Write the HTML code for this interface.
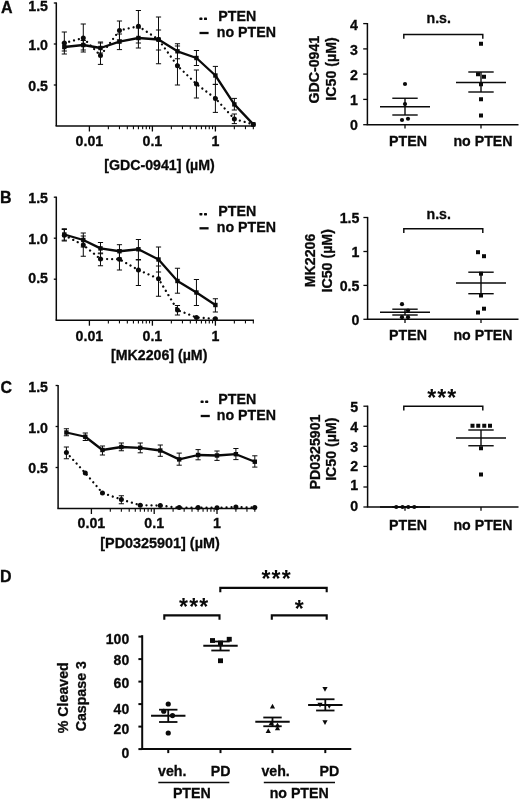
<!DOCTYPE html>
<html><head><meta charset="utf-8"><title>Figure</title>
<style>
html,body{margin:0;padding:0;background:#fff;}
svg{display:block;}
svg text{font-family:"Liberation Sans",Arial,sans-serif;font-weight:bold;fill:#0a0a0a;stroke:#0a0a0a;stroke-width:0.3px;}
svg line,svg polyline{stroke:#0a0a0a;}
svg circle,svg rect,svg polygon{fill:#0a0a0a;}
</style></head><body>
<svg width="520" height="799" viewBox="0 0 520 799">
<rect x="0" y="0" width="520" height="799" style="fill:#fff"/>
<text x="1.0" y="12.8" font-size="16" text-anchor="start" >A</text>
<line x1="56.30" y1="2.40" x2="56.30" y2="126.00" stroke-width="1.5" />
<line x1="55.55" y1="126.00" x2="254.00" y2="126.00" stroke-width="1.5" />
<line x1="53.80" y1="85.00" x2="56.30" y2="85.00" stroke-width="1.3" />
<text x="48.0" y="90.9" font-size="14.2" text-anchor="end" >0.5</text>
<line x1="53.80" y1="44.00" x2="56.30" y2="44.00" stroke-width="1.3" />
<text x="48.0" y="49.9" font-size="14.2" text-anchor="end" >1.0</text>
<line x1="53.80" y1="3.00" x2="56.30" y2="3.00" stroke-width="1.3" />
<text x="48.0" y="11.3" font-size="14.2" text-anchor="end" >1.5</text>
<line x1="89.40" y1="126.00" x2="89.40" y2="131.50" stroke-width="1.3" />
<line x1="108.36" y1="126.00" x2="108.36" y2="129.20" stroke-width="1.1" />
<line x1="119.46" y1="126.00" x2="119.46" y2="129.20" stroke-width="1.1" />
<line x1="127.33" y1="126.00" x2="127.33" y2="129.20" stroke-width="1.1" />
<line x1="133.44" y1="126.00" x2="133.44" y2="129.20" stroke-width="1.1" />
<line x1="138.42" y1="126.00" x2="138.42" y2="129.20" stroke-width="1.1" />
<line x1="142.64" y1="126.00" x2="142.64" y2="129.20" stroke-width="1.1" />
<line x1="146.29" y1="126.00" x2="146.29" y2="129.20" stroke-width="1.1" />
<line x1="149.52" y1="126.00" x2="149.52" y2="129.20" stroke-width="1.1" />
<line x1="152.40" y1="126.00" x2="152.40" y2="131.50" stroke-width="1.3" />
<line x1="171.36" y1="126.00" x2="171.36" y2="129.20" stroke-width="1.1" />
<line x1="182.46" y1="126.00" x2="182.46" y2="129.20" stroke-width="1.1" />
<line x1="190.33" y1="126.00" x2="190.33" y2="129.20" stroke-width="1.1" />
<line x1="196.44" y1="126.00" x2="196.44" y2="129.20" stroke-width="1.1" />
<line x1="201.42" y1="126.00" x2="201.42" y2="129.20" stroke-width="1.1" />
<line x1="205.64" y1="126.00" x2="205.64" y2="129.20" stroke-width="1.1" />
<line x1="209.29" y1="126.00" x2="209.29" y2="129.20" stroke-width="1.1" />
<line x1="212.52" y1="126.00" x2="212.52" y2="129.20" stroke-width="1.1" />
<line x1="215.40" y1="126.00" x2="215.40" y2="131.50" stroke-width="1.3" />
<line x1="234.36" y1="126.00" x2="234.36" y2="129.20" stroke-width="1.1" />
<line x1="245.46" y1="126.00" x2="245.46" y2="129.20" stroke-width="1.1" />
<line x1="253.33" y1="126.00" x2="253.33" y2="129.20" stroke-width="1.1" />
<text x="89.4" y="146.4" font-size="14.2" text-anchor="middle" >0.01</text>
<text x="152.4" y="146.4" font-size="14.2" text-anchor="middle" >0.1</text>
<text x="215.4" y="146.4" font-size="14.2" text-anchor="middle" >1</text>
<text x="159.5" y="169.6" font-size="14.2" text-anchor="middle" >[GDC-0941] (µM)</text>
<polyline points="64.33,43.00 83.29,38.00 100.49,55.60 119.46,30.40 138.42,26.20 158.51,39.50 177.47,65.80 196.44,84.00 215.40,98.40 234.36,119.00 253.33,124.40" fill="none" stroke-width="2.3" stroke-dasharray="0.01 5" stroke-linecap="round"/>
<line x1="64.33" y1="32.00" x2="64.33" y2="54.00" stroke-width="1.0" />
<line x1="61.73" y1="32.00" x2="66.93" y2="32.00" stroke-width="1.0" />
<line x1="61.73" y1="54.00" x2="66.93" y2="54.00" stroke-width="1.0" />
<circle cx="64.33" cy="43.00" r="2.5" stroke="none"/>
<line x1="83.29" y1="24.00" x2="83.29" y2="52.00" stroke-width="1.0" />
<line x1="80.69" y1="24.00" x2="85.89" y2="24.00" stroke-width="1.0" />
<line x1="80.69" y1="52.00" x2="85.89" y2="52.00" stroke-width="1.0" />
<circle cx="83.29" cy="38.00" r="2.5" stroke="none"/>
<line x1="100.49" y1="42.00" x2="100.49" y2="64.40" stroke-width="1.0" />
<line x1="97.89" y1="42.00" x2="103.09" y2="42.00" stroke-width="1.0" />
<line x1="97.89" y1="64.40" x2="103.09" y2="64.40" stroke-width="1.0" />
<circle cx="100.49" cy="55.60" r="2.5" stroke="none"/>
<line x1="119.46" y1="21.00" x2="119.46" y2="40.00" stroke-width="1.0" />
<line x1="116.86" y1="21.00" x2="122.06" y2="21.00" stroke-width="1.0" />
<line x1="116.86" y1="40.00" x2="122.06" y2="40.00" stroke-width="1.0" />
<circle cx="119.46" cy="30.40" r="2.5" stroke="none"/>
<line x1="138.42" y1="10.50" x2="138.42" y2="43.00" stroke-width="1.0" />
<line x1="135.82" y1="10.50" x2="141.02" y2="10.50" stroke-width="1.0" />
<line x1="135.82" y1="43.00" x2="141.02" y2="43.00" stroke-width="1.0" />
<circle cx="138.42" cy="26.20" r="2.5" stroke="none"/>
<line x1="158.51" y1="17.00" x2="158.51" y2="63.75" stroke-width="1.0" />
<line x1="155.91" y1="17.00" x2="161.11" y2="17.00" stroke-width="1.0" />
<line x1="155.91" y1="63.75" x2="161.11" y2="63.75" stroke-width="1.0" />
<circle cx="158.51" cy="39.50" r="2.5" stroke="none"/>
<line x1="177.47" y1="46.00" x2="177.47" y2="85.00" stroke-width="1.0" />
<line x1="174.87" y1="46.00" x2="180.07" y2="46.00" stroke-width="1.0" />
<line x1="174.87" y1="85.00" x2="180.07" y2="85.00" stroke-width="1.0" />
<circle cx="177.47" cy="65.80" r="2.5" stroke="none"/>
<line x1="196.44" y1="70.00" x2="196.44" y2="98.00" stroke-width="1.0" />
<line x1="193.84" y1="70.00" x2="199.04" y2="70.00" stroke-width="1.0" />
<line x1="193.84" y1="98.00" x2="199.04" y2="98.00" stroke-width="1.0" />
<circle cx="196.44" cy="84.00" r="2.5" stroke="none"/>
<line x1="215.40" y1="84.40" x2="215.40" y2="112.40" stroke-width="1.0" />
<line x1="212.80" y1="84.40" x2="218.00" y2="84.40" stroke-width="1.0" />
<line x1="212.80" y1="112.40" x2="218.00" y2="112.40" stroke-width="1.0" />
<circle cx="215.40" cy="98.40" r="2.5" stroke="none"/>
<line x1="234.36" y1="114.00" x2="234.36" y2="123.60" stroke-width="1.0" />
<line x1="231.76" y1="114.00" x2="236.96" y2="114.00" stroke-width="1.0" />
<line x1="231.76" y1="123.60" x2="236.96" y2="123.60" stroke-width="1.0" />
<circle cx="234.36" cy="119.00" r="2.5" stroke="none"/>
<circle cx="253.33" cy="124.40" r="2.5" stroke="none"/>
<polyline points="64.33,47.00 83.29,45.00 100.49,48.00 119.46,41.60 138.42,38.00 158.51,39.50 177.47,51.30 196.44,58.00 215.40,75.50 234.36,104.40 253.33,124.40" fill="none" stroke-width="2.3" stroke-linejoin="round"/>
<line x1="64.33" y1="43.00" x2="64.33" y2="51.00" stroke-width="1.0" />
<line x1="61.73" y1="43.00" x2="66.93" y2="43.00" stroke-width="1.0" />
<line x1="61.73" y1="51.00" x2="66.93" y2="51.00" stroke-width="1.0" />
<rect x="62.13" y="44.80" width="4.4" height="4.4" stroke="none"/>
<line x1="83.29" y1="40.50" x2="83.29" y2="50.00" stroke-width="1.0" />
<line x1="80.69" y1="40.50" x2="85.89" y2="40.50" stroke-width="1.0" />
<line x1="80.69" y1="50.00" x2="85.89" y2="50.00" stroke-width="1.0" />
<rect x="81.09" y="42.80" width="4.4" height="4.4" stroke="none"/>
<line x1="100.49" y1="43.00" x2="100.49" y2="53.00" stroke-width="1.0" />
<line x1="97.89" y1="43.00" x2="103.09" y2="43.00" stroke-width="1.0" />
<line x1="97.89" y1="53.00" x2="103.09" y2="53.00" stroke-width="1.0" />
<rect x="98.29" y="45.80" width="4.4" height="4.4" stroke="none"/>
<line x1="119.46" y1="34.00" x2="119.46" y2="49.60" stroke-width="1.0" />
<line x1="116.86" y1="34.00" x2="122.06" y2="34.00" stroke-width="1.0" />
<line x1="116.86" y1="49.60" x2="122.06" y2="49.60" stroke-width="1.0" />
<rect x="117.26" y="39.40" width="4.4" height="4.4" stroke="none"/>
<line x1="138.42" y1="28.00" x2="138.42" y2="48.00" stroke-width="1.0" />
<line x1="135.82" y1="28.00" x2="141.02" y2="28.00" stroke-width="1.0" />
<line x1="135.82" y1="48.00" x2="141.02" y2="48.00" stroke-width="1.0" />
<rect x="136.22" y="35.80" width="4.4" height="4.4" stroke="none"/>
<line x1="158.51" y1="30.00" x2="158.51" y2="50.00" stroke-width="1.0" />
<line x1="155.91" y1="30.00" x2="161.11" y2="30.00" stroke-width="1.0" />
<line x1="155.91" y1="50.00" x2="161.11" y2="50.00" stroke-width="1.0" />
<rect x="156.31" y="37.30" width="4.4" height="4.4" stroke="none"/>
<line x1="177.47" y1="43.75" x2="177.47" y2="58.75" stroke-width="1.0" />
<line x1="174.87" y1="43.75" x2="180.07" y2="43.75" stroke-width="1.0" />
<line x1="174.87" y1="58.75" x2="180.07" y2="58.75" stroke-width="1.0" />
<rect x="175.27" y="49.10" width="4.4" height="4.4" stroke="none"/>
<line x1="196.44" y1="50.50" x2="196.44" y2="65.50" stroke-width="1.0" />
<line x1="193.84" y1="50.50" x2="199.04" y2="50.50" stroke-width="1.0" />
<line x1="193.84" y1="65.50" x2="199.04" y2="65.50" stroke-width="1.0" />
<rect x="194.24" y="55.80" width="4.4" height="4.4" stroke="none"/>
<line x1="215.40" y1="66.40" x2="215.40" y2="84.40" stroke-width="1.0" />
<line x1="212.80" y1="66.40" x2="218.00" y2="66.40" stroke-width="1.0" />
<line x1="212.80" y1="84.40" x2="218.00" y2="84.40" stroke-width="1.0" />
<rect x="213.20" y="73.30" width="4.4" height="4.4" stroke="none"/>
<line x1="234.36" y1="98.40" x2="234.36" y2="110.00" stroke-width="1.0" />
<line x1="231.76" y1="98.40" x2="236.96" y2="98.40" stroke-width="1.0" />
<line x1="231.76" y1="110.00" x2="236.96" y2="110.00" stroke-width="1.0" />
<rect x="232.16" y="102.20" width="4.4" height="4.4" stroke="none"/>
<rect x="251.13" y="122.20" width="4.4" height="4.4" stroke="none"/>
<rect x="199.4" y="17.6" width="3" height="2.5" rx="0.6" stroke="none"/>
<rect x="204" y="17.6" width="3" height="2.5" rx="0.6" stroke="none"/>
<text x="218.3" y="20.5" font-size="14.2" text-anchor="start" >PTEN</text>
<line x1="199.50" y1="33.00" x2="208.60" y2="33.00" stroke-width="2.3" />
<text x="216.8" y="37.1" font-size="14.2" text-anchor="start" >no PTEN</text>
<text x="0.1" y="202.9" font-size="16" text-anchor="start" >B</text>
<line x1="56.30" y1="196.60" x2="56.30" y2="320.20" stroke-width="1.5" />
<line x1="55.55" y1="320.20" x2="254.00" y2="320.20" stroke-width="1.5" />
<line x1="53.80" y1="279.20" x2="56.30" y2="279.20" stroke-width="1.3" />
<text x="48.0" y="283.2" font-size="14.2" text-anchor="end" >0.5</text>
<line x1="53.80" y1="238.20" x2="56.30" y2="238.20" stroke-width="1.3" />
<text x="48.0" y="244.2" font-size="14.2" text-anchor="end" >1.0</text>
<line x1="53.80" y1="197.20" x2="56.30" y2="197.20" stroke-width="1.3" />
<text x="48.0" y="202.79999999999998" font-size="14.2" text-anchor="end" >1.5</text>
<line x1="89.40" y1="320.20" x2="89.40" y2="325.70" stroke-width="1.3" />
<line x1="108.36" y1="320.20" x2="108.36" y2="323.40" stroke-width="1.1" />
<line x1="119.46" y1="320.20" x2="119.46" y2="323.40" stroke-width="1.1" />
<line x1="127.33" y1="320.20" x2="127.33" y2="323.40" stroke-width="1.1" />
<line x1="133.44" y1="320.20" x2="133.44" y2="323.40" stroke-width="1.1" />
<line x1="138.42" y1="320.20" x2="138.42" y2="323.40" stroke-width="1.1" />
<line x1="142.64" y1="320.20" x2="142.64" y2="323.40" stroke-width="1.1" />
<line x1="146.29" y1="320.20" x2="146.29" y2="323.40" stroke-width="1.1" />
<line x1="149.52" y1="320.20" x2="149.52" y2="323.40" stroke-width="1.1" />
<line x1="152.40" y1="320.20" x2="152.40" y2="325.70" stroke-width="1.3" />
<line x1="171.36" y1="320.20" x2="171.36" y2="323.40" stroke-width="1.1" />
<line x1="182.46" y1="320.20" x2="182.46" y2="323.40" stroke-width="1.1" />
<line x1="190.33" y1="320.20" x2="190.33" y2="323.40" stroke-width="1.1" />
<line x1="196.44" y1="320.20" x2="196.44" y2="323.40" stroke-width="1.1" />
<line x1="201.42" y1="320.20" x2="201.42" y2="323.40" stroke-width="1.1" />
<line x1="205.64" y1="320.20" x2="205.64" y2="323.40" stroke-width="1.1" />
<line x1="209.29" y1="320.20" x2="209.29" y2="323.40" stroke-width="1.1" />
<line x1="212.52" y1="320.20" x2="212.52" y2="323.40" stroke-width="1.1" />
<line x1="215.40" y1="320.20" x2="215.40" y2="325.70" stroke-width="1.3" />
<line x1="234.36" y1="320.20" x2="234.36" y2="323.40" stroke-width="1.1" />
<line x1="245.46" y1="320.20" x2="245.46" y2="323.40" stroke-width="1.1" />
<line x1="253.33" y1="320.20" x2="253.33" y2="323.40" stroke-width="1.1" />
<text x="89.4" y="340.8" font-size="14.2" text-anchor="middle" >0.01</text>
<text x="152.4" y="340.8" font-size="14.2" text-anchor="middle" >0.1</text>
<text x="215.4" y="340.8" font-size="14.2" text-anchor="middle" >1</text>
<text x="159.2" y="359.6" font-size="14.2" text-anchor="middle" >[MK2206] (µM)</text>
<polyline points="64.33,235.30 83.29,245.00 100.49,259.00 119.46,259.30 138.42,270.00 158.51,278.75 177.47,310.00 196.44,317.50 215.40,318.75" fill="none" stroke-width="2.3" stroke-dasharray="0.01 5" stroke-linecap="round"/>
<line x1="64.33" y1="229.50" x2="64.33" y2="241.00" stroke-width="1.0" />
<line x1="61.73" y1="229.50" x2="66.93" y2="229.50" stroke-width="1.0" />
<line x1="61.73" y1="241.00" x2="66.93" y2="241.00" stroke-width="1.0" />
<circle cx="64.33" cy="235.30" r="2.5" stroke="none"/>
<line x1="83.29" y1="236.00" x2="83.29" y2="256.25" stroke-width="1.0" />
<line x1="80.69" y1="236.00" x2="85.89" y2="236.00" stroke-width="1.0" />
<line x1="80.69" y1="256.25" x2="85.89" y2="256.25" stroke-width="1.0" />
<circle cx="83.29" cy="245.00" r="2.5" stroke="none"/>
<line x1="100.49" y1="253.00" x2="100.49" y2="265.75" stroke-width="1.0" />
<line x1="97.89" y1="253.00" x2="103.09" y2="253.00" stroke-width="1.0" />
<line x1="97.89" y1="265.75" x2="103.09" y2="265.75" stroke-width="1.0" />
<circle cx="100.49" cy="259.00" r="2.5" stroke="none"/>
<line x1="119.46" y1="250.00" x2="119.46" y2="270.00" stroke-width="1.0" />
<line x1="116.86" y1="250.00" x2="122.06" y2="250.00" stroke-width="1.0" />
<line x1="116.86" y1="270.00" x2="122.06" y2="270.00" stroke-width="1.0" />
<circle cx="119.46" cy="259.30" r="2.5" stroke="none"/>
<line x1="138.42" y1="260.00" x2="138.42" y2="285.50" stroke-width="1.0" />
<line x1="135.82" y1="260.00" x2="141.02" y2="260.00" stroke-width="1.0" />
<line x1="135.82" y1="285.50" x2="141.02" y2="285.50" stroke-width="1.0" />
<circle cx="138.42" cy="270.00" r="2.5" stroke="none"/>
<line x1="158.51" y1="266.00" x2="158.51" y2="296.25" stroke-width="1.0" />
<line x1="155.91" y1="266.00" x2="161.11" y2="266.00" stroke-width="1.0" />
<line x1="155.91" y1="296.25" x2="161.11" y2="296.25" stroke-width="1.0" />
<circle cx="158.51" cy="278.75" r="2.5" stroke="none"/>
<line x1="177.47" y1="305.50" x2="177.47" y2="315.00" stroke-width="1.0" />
<line x1="174.87" y1="305.50" x2="180.07" y2="305.50" stroke-width="1.0" />
<line x1="174.87" y1="315.00" x2="180.07" y2="315.00" stroke-width="1.0" />
<circle cx="177.47" cy="310.00" r="2.5" stroke="none"/>
<circle cx="196.44" cy="317.50" r="2.5" stroke="none"/>
<circle cx="215.40" cy="318.75" r="2.5" stroke="none"/>
<polyline points="64.33,234.50 83.29,240.00 100.49,248.40 119.46,251.25 138.42,249.25 158.51,259.50 177.47,281.00 196.44,292.50 215.40,305.00" fill="none" stroke-width="2.3" stroke-linejoin="round"/>
<line x1="64.33" y1="228.75" x2="64.33" y2="240.20" stroke-width="1.0" />
<line x1="61.73" y1="228.75" x2="66.93" y2="228.75" stroke-width="1.0" />
<line x1="61.73" y1="240.20" x2="66.93" y2="240.20" stroke-width="1.0" />
<rect x="62.13" y="232.30" width="4.4" height="4.4" stroke="none"/>
<line x1="83.29" y1="233.00" x2="83.29" y2="247.00" stroke-width="1.0" />
<line x1="80.69" y1="233.00" x2="85.89" y2="233.00" stroke-width="1.0" />
<line x1="80.69" y1="247.00" x2="85.89" y2="247.00" stroke-width="1.0" />
<rect x="81.09" y="237.80" width="4.4" height="4.4" stroke="none"/>
<line x1="100.49" y1="242.50" x2="100.49" y2="253.75" stroke-width="1.0" />
<line x1="97.89" y1="242.50" x2="103.09" y2="242.50" stroke-width="1.0" />
<line x1="97.89" y1="253.75" x2="103.09" y2="253.75" stroke-width="1.0" />
<rect x="98.29" y="246.20" width="4.4" height="4.4" stroke="none"/>
<line x1="119.46" y1="244.70" x2="119.46" y2="258.00" stroke-width="1.0" />
<line x1="116.86" y1="244.70" x2="122.06" y2="244.70" stroke-width="1.0" />
<line x1="116.86" y1="258.00" x2="122.06" y2="258.00" stroke-width="1.0" />
<rect x="117.26" y="249.05" width="4.4" height="4.4" stroke="none"/>
<line x1="138.42" y1="239.50" x2="138.42" y2="259.50" stroke-width="1.0" />
<line x1="135.82" y1="239.50" x2="141.02" y2="239.50" stroke-width="1.0" />
<line x1="135.82" y1="259.50" x2="141.02" y2="259.50" stroke-width="1.0" />
<rect x="136.22" y="247.05" width="4.4" height="4.4" stroke="none"/>
<line x1="158.51" y1="247.00" x2="158.51" y2="272.00" stroke-width="1.0" />
<line x1="155.91" y1="247.00" x2="161.11" y2="247.00" stroke-width="1.0" />
<line x1="155.91" y1="272.00" x2="161.11" y2="272.00" stroke-width="1.0" />
<rect x="156.31" y="257.30" width="4.4" height="4.4" stroke="none"/>
<line x1="177.47" y1="268.25" x2="177.47" y2="293.20" stroke-width="1.0" />
<line x1="174.87" y1="268.25" x2="180.07" y2="268.25" stroke-width="1.0" />
<line x1="174.87" y1="293.20" x2="180.07" y2="293.20" stroke-width="1.0" />
<rect x="175.27" y="278.80" width="4.4" height="4.4" stroke="none"/>
<line x1="196.44" y1="279.50" x2="196.44" y2="305.50" stroke-width="1.0" />
<line x1="193.84" y1="279.50" x2="199.04" y2="279.50" stroke-width="1.0" />
<line x1="193.84" y1="305.50" x2="199.04" y2="305.50" stroke-width="1.0" />
<rect x="194.24" y="290.30" width="4.4" height="4.4" stroke="none"/>
<line x1="215.40" y1="298.75" x2="215.40" y2="312.00" stroke-width="1.0" />
<line x1="212.80" y1="298.75" x2="218.00" y2="298.75" stroke-width="1.0" />
<line x1="212.80" y1="312.00" x2="218.00" y2="312.00" stroke-width="1.0" />
<rect x="213.20" y="302.80" width="4.4" height="4.4" stroke="none"/>
<rect x="199.4" y="212.9" width="3" height="2.5" rx="0.6" stroke="none"/>
<rect x="204" y="212.9" width="3" height="2.5" rx="0.6" stroke="none"/>
<text x="218.3" y="215.8" font-size="14.2" text-anchor="start" >PTEN</text>
<line x1="199.50" y1="228.30" x2="208.60" y2="228.30" stroke-width="2.3" />
<text x="216.8" y="232.4" font-size="14.2" text-anchor="start" >no PTEN</text>
<text x="0.4" y="393.1" font-size="16" text-anchor="start" >C</text>
<line x1="58.10" y1="384.90" x2="58.10" y2="508.50" stroke-width="1.5" />
<line x1="57.35" y1="508.50" x2="256.00" y2="508.50" stroke-width="1.5" />
<line x1="55.60" y1="467.50" x2="58.10" y2="467.50" stroke-width="1.3" />
<text x="48.0" y="473.4" font-size="14.2" text-anchor="end" >0.5</text>
<line x1="55.60" y1="426.50" x2="58.10" y2="426.50" stroke-width="1.3" />
<text x="48.0" y="433.3" font-size="14.2" text-anchor="end" >1.0</text>
<line x1="55.60" y1="385.50" x2="58.10" y2="385.50" stroke-width="1.3" />
<text x="48.0" y="392.4" font-size="14.2" text-anchor="end" >1.5</text>
<line x1="91.40" y1="508.50" x2="91.40" y2="514.00" stroke-width="1.3" />
<line x1="110.30" y1="508.50" x2="110.30" y2="511.70" stroke-width="1.1" />
<line x1="121.36" y1="508.50" x2="121.36" y2="511.70" stroke-width="1.1" />
<line x1="129.21" y1="508.50" x2="129.21" y2="511.70" stroke-width="1.1" />
<line x1="135.30" y1="508.50" x2="135.30" y2="511.70" stroke-width="1.1" />
<line x1="140.27" y1="508.50" x2="140.27" y2="511.70" stroke-width="1.1" />
<line x1="144.47" y1="508.50" x2="144.47" y2="511.70" stroke-width="1.1" />
<line x1="148.11" y1="508.50" x2="148.11" y2="511.70" stroke-width="1.1" />
<line x1="151.33" y1="508.50" x2="151.33" y2="511.70" stroke-width="1.1" />
<line x1="154.20" y1="508.50" x2="154.20" y2="514.00" stroke-width="1.3" />
<line x1="173.10" y1="508.50" x2="173.10" y2="511.70" stroke-width="1.1" />
<line x1="184.16" y1="508.50" x2="184.16" y2="511.70" stroke-width="1.1" />
<line x1="192.01" y1="508.50" x2="192.01" y2="511.70" stroke-width="1.1" />
<line x1="198.10" y1="508.50" x2="198.10" y2="511.70" stroke-width="1.1" />
<line x1="203.07" y1="508.50" x2="203.07" y2="511.70" stroke-width="1.1" />
<line x1="207.27" y1="508.50" x2="207.27" y2="511.70" stroke-width="1.1" />
<line x1="210.91" y1="508.50" x2="210.91" y2="511.70" stroke-width="1.1" />
<line x1="214.13" y1="508.50" x2="214.13" y2="511.70" stroke-width="1.1" />
<line x1="217.00" y1="508.50" x2="217.00" y2="514.00" stroke-width="1.3" />
<line x1="235.90" y1="508.50" x2="235.90" y2="511.70" stroke-width="1.1" />
<line x1="246.96" y1="508.50" x2="246.96" y2="511.70" stroke-width="1.1" />
<line x1="254.81" y1="508.50" x2="254.81" y2="511.70" stroke-width="1.1" />
<text x="91.4" y="527.6" font-size="14.2" text-anchor="middle" >0.01</text>
<text x="154.2" y="527.6" font-size="14.2" text-anchor="middle" >0.1</text>
<text x="217.0" y="527.6" font-size="14.2" text-anchor="middle" >1</text>
<text x="160" y="548.0" font-size="14.4" text-anchor="middle" >[PD0325901] (µM)</text>
<polyline points="66.41,452.50 85.31,473.00 102.46,493.00 121.36,499.50 140.27,505.20 160.29,505.60 179.19,507.60 198.10,507.60 217.00,507.80 235.90,507.00 254.81,507.60" fill="none" stroke-width="2.3" stroke-dasharray="0.01 5" stroke-linecap="round"/>
<line x1="66.41" y1="447.00" x2="66.41" y2="458.75" stroke-width="1.0" />
<line x1="63.81" y1="447.00" x2="69.01" y2="447.00" stroke-width="1.0" />
<line x1="63.81" y1="458.75" x2="69.01" y2="458.75" stroke-width="1.0" />
<circle cx="66.41" cy="452.50" r="2.5" stroke="none"/>
<circle cx="85.31" cy="473.00" r="2.5" stroke="none"/>
<circle cx="102.46" cy="493.00" r="2.5" stroke="none"/>
<line x1="121.36" y1="495.75" x2="121.36" y2="503.75" stroke-width="1.0" />
<line x1="118.76" y1="495.75" x2="123.96" y2="495.75" stroke-width="1.0" />
<line x1="118.76" y1="503.75" x2="123.96" y2="503.75" stroke-width="1.0" />
<circle cx="121.36" cy="499.50" r="2.5" stroke="none"/>
<circle cx="140.27" cy="505.20" r="2.5" stroke="none"/>
<circle cx="160.29" cy="505.60" r="2.5" stroke="none"/>
<circle cx="179.19" cy="507.60" r="2.5" stroke="none"/>
<circle cx="198.10" cy="507.60" r="2.5" stroke="none"/>
<circle cx="217.00" cy="507.80" r="2.5" stroke="none"/>
<circle cx="235.90" cy="507.00" r="2.5" stroke="none"/>
<circle cx="254.81" cy="507.60" r="2.5" stroke="none"/>
<polyline points="66.41,432.50 85.31,436.75 102.46,450.00 121.36,447.00 140.27,447.80 160.29,450.50 179.19,459.40 198.10,455.00 217.00,455.50 235.90,454.20 254.81,461.70" fill="none" stroke-width="2.3" stroke-linejoin="round"/>
<line x1="66.41" y1="428.75" x2="66.41" y2="435.75" stroke-width="1.0" />
<line x1="63.81" y1="428.75" x2="69.01" y2="428.75" stroke-width="1.0" />
<line x1="63.81" y1="435.75" x2="69.01" y2="435.75" stroke-width="1.0" />
<rect x="64.21" y="430.30" width="4.4" height="4.4" stroke="none"/>
<line x1="85.31" y1="433.00" x2="85.31" y2="440.50" stroke-width="1.0" />
<line x1="82.71" y1="433.00" x2="87.91" y2="433.00" stroke-width="1.0" />
<line x1="82.71" y1="440.50" x2="87.91" y2="440.50" stroke-width="1.0" />
<rect x="83.11" y="434.55" width="4.4" height="4.4" stroke="none"/>
<line x1="102.46" y1="446.00" x2="102.46" y2="455.00" stroke-width="1.0" />
<line x1="99.86" y1="446.00" x2="105.06" y2="446.00" stroke-width="1.0" />
<line x1="99.86" y1="455.00" x2="105.06" y2="455.00" stroke-width="1.0" />
<rect x="100.26" y="447.80" width="4.4" height="4.4" stroke="none"/>
<line x1="121.36" y1="443.00" x2="121.36" y2="450.75" stroke-width="1.0" />
<line x1="118.76" y1="443.00" x2="123.96" y2="443.00" stroke-width="1.0" />
<line x1="118.76" y1="450.75" x2="123.96" y2="450.75" stroke-width="1.0" />
<rect x="119.16" y="444.80" width="4.4" height="4.4" stroke="none"/>
<line x1="140.27" y1="443.00" x2="140.27" y2="452.80" stroke-width="1.0" />
<line x1="137.67" y1="443.00" x2="142.87" y2="443.00" stroke-width="1.0" />
<line x1="137.67" y1="452.80" x2="142.87" y2="452.80" stroke-width="1.0" />
<rect x="138.07" y="445.60" width="4.4" height="4.4" stroke="none"/>
<line x1="160.29" y1="445.00" x2="160.29" y2="456.30" stroke-width="1.0" />
<line x1="157.69" y1="445.00" x2="162.89" y2="445.00" stroke-width="1.0" />
<line x1="157.69" y1="456.30" x2="162.89" y2="456.30" stroke-width="1.0" />
<rect x="158.09" y="448.30" width="4.4" height="4.4" stroke="none"/>
<line x1="179.19" y1="453.10" x2="179.19" y2="465.20" stroke-width="1.0" />
<line x1="176.59" y1="453.10" x2="181.79" y2="453.10" stroke-width="1.0" />
<line x1="176.59" y1="465.20" x2="181.79" y2="465.20" stroke-width="1.0" />
<rect x="176.99" y="457.20" width="4.4" height="4.4" stroke="none"/>
<line x1="198.10" y1="449.60" x2="198.10" y2="459.80" stroke-width="1.0" />
<line x1="195.50" y1="449.60" x2="200.70" y2="449.60" stroke-width="1.0" />
<line x1="195.50" y1="459.80" x2="200.70" y2="459.80" stroke-width="1.0" />
<rect x="195.90" y="452.80" width="4.4" height="4.4" stroke="none"/>
<line x1="217.00" y1="451.00" x2="217.00" y2="460.40" stroke-width="1.0" />
<line x1="214.40" y1="451.00" x2="219.60" y2="451.00" stroke-width="1.0" />
<line x1="214.40" y1="460.40" x2="219.60" y2="460.40" stroke-width="1.0" />
<rect x="214.80" y="453.30" width="4.4" height="4.4" stroke="none"/>
<line x1="235.90" y1="448.50" x2="235.90" y2="459.60" stroke-width="1.0" />
<line x1="233.30" y1="448.50" x2="238.50" y2="448.50" stroke-width="1.0" />
<line x1="233.30" y1="459.60" x2="238.50" y2="459.60" stroke-width="1.0" />
<rect x="233.70" y="452.00" width="4.4" height="4.4" stroke="none"/>
<line x1="254.81" y1="455.80" x2="254.81" y2="467.10" stroke-width="1.0" />
<line x1="252.21" y1="455.80" x2="257.41" y2="455.80" stroke-width="1.0" />
<line x1="252.21" y1="467.10" x2="257.41" y2="467.10" stroke-width="1.0" />
<rect x="252.61" y="459.50" width="4.4" height="4.4" stroke="none"/>
<rect x="200.6" y="400.6" width="3" height="2.5" rx="0.6" stroke="none"/>
<rect x="205.2" y="400.6" width="3" height="2.5" rx="0.6" stroke="none"/>
<text x="218.3" y="403.5" font-size="14.2" text-anchor="start" >PTEN</text>
<line x1="200.70" y1="416.00" x2="209.80" y2="416.00" stroke-width="2.3" />
<text x="216.8" y="420.1" font-size="14.2" text-anchor="start" >no PTEN</text>
<line x1="367.40" y1="23.00" x2="367.40" y2="124.70" stroke-width="1.5" />
<line x1="366.65" y1="124.70" x2="518.50" y2="124.70" stroke-width="1.5" />
<line x1="363.20" y1="23.60" x2="367.40" y2="23.60" stroke-width="1.3" />
<text x="357.8" y="30.000000000000004" font-size="14.2" text-anchor="end" >4</text>
<line x1="363.20" y1="48.90" x2="367.40" y2="48.90" stroke-width="1.3" />
<text x="357.8" y="54.699999999999996" font-size="14.2" text-anchor="end" >3</text>
<line x1="363.20" y1="74.10" x2="367.40" y2="74.10" stroke-width="1.3" />
<text x="357.8" y="79.8" font-size="14.2" text-anchor="end" >2</text>
<line x1="363.20" y1="99.40" x2="367.40" y2="99.40" stroke-width="1.3" />
<text x="357.8" y="104.7" font-size="14.2" text-anchor="end" >1</text>
<line x1="363.20" y1="124.70" x2="367.40" y2="124.70" stroke-width="1.3" />
<text x="357.8" y="130.2" font-size="14.2" text-anchor="end" >0</text>
<text transform="translate(319,69.7) rotate(-90)" font-size="14.2" text-anchor="middle">GDC-0941</text>
<text transform="translate(335.8,69) rotate(-90)" font-size="14.2" text-anchor="middle">IC50 (µM)</text>
<line x1="405.00" y1="124.70" x2="405.00" y2="128.50" stroke-width="1.3" />
<line x1="481.00" y1="124.70" x2="481.00" y2="128.50" stroke-width="1.3" />
<text x="408" y="145.6" font-size="14.2" text-anchor="middle" >PTEN</text>
<text x="483" y="145.6" font-size="14.2" text-anchor="middle" >no PTEN</text>
<polyline points="403.8,38.8 403.8,34.5 482.8,34.5 482.8,38.8" fill="none" stroke-width="1.45"/>
<text x="438.7" y="23" font-size="14.2" text-anchor="middle" >n.s.</text>
<line x1="380.00" y1="106.75" x2="430.00" y2="106.75" stroke-width="1.4" />
<line x1="392.30" y1="98.25" x2="417.70" y2="98.25" stroke-width="1.4" />
<line x1="392.30" y1="115.00" x2="417.70" y2="115.00" stroke-width="1.4" />
<line x1="405.00" y1="98.25" x2="405.00" y2="115.00" stroke-width="1.4" />
<line x1="456.00" y1="82.50" x2="506.00" y2="82.50" stroke-width="1.4" />
<line x1="468.30" y1="72.00" x2="493.70" y2="72.00" stroke-width="1.4" />
<line x1="468.30" y1="92.00" x2="493.70" y2="92.00" stroke-width="1.4" />
<line x1="481.00" y1="72.00" x2="481.00" y2="92.00" stroke-width="1.4" />
<circle cx="405" cy="84" r="2.1" stroke="none"/>
<circle cx="405" cy="104" r="2.1" stroke="none"/>
<circle cx="402" cy="120" r="2.1" stroke="none"/>
<circle cx="408" cy="118.75" r="2.1" stroke="none"/>
<rect x="479" y="41.75" width="4" height="4" stroke="none"/>
<rect x="476" y="72.25" width="4" height="4" stroke="none"/>
<rect x="482" y="74.75" width="4" height="4" stroke="none"/>
<rect x="479" y="82.25" width="4" height="4" stroke="none"/>
<rect x="479" y="97.25" width="4" height="4" stroke="none"/>
<rect x="479" y="113.5" width="4" height="4" stroke="none"/>
<line x1="367.60" y1="216.90" x2="367.60" y2="319.30" stroke-width="1.5" />
<line x1="366.85" y1="319.30" x2="518.50" y2="319.30" stroke-width="1.5" />
<line x1="363.40" y1="217.50" x2="367.60" y2="217.50" stroke-width="1.3" />
<text x="359.4" y="222.8" font-size="14.2" text-anchor="end" >1.5</text>
<line x1="363.40" y1="251.50" x2="367.60" y2="251.50" stroke-width="1.3" />
<text x="359.4" y="256.8" font-size="14.2" text-anchor="end" >1</text>
<line x1="363.40" y1="285.40" x2="367.60" y2="285.40" stroke-width="1.3" />
<text x="359.4" y="290.7" font-size="14.2" text-anchor="end" >0.5</text>
<line x1="363.40" y1="319.30" x2="367.60" y2="319.30" stroke-width="1.3" />
<text x="359.4" y="324.6" font-size="14.2" text-anchor="end" >0</text>
<text transform="translate(315.4,260.5) rotate(-90)" font-size="14.2" text-anchor="middle">MK2206</text>
<text transform="translate(332.2,260.8) rotate(-90)" font-size="14.2" text-anchor="middle">IC50 (µM)</text>
<line x1="405.00" y1="319.30" x2="405.00" y2="323.10" stroke-width="1.3" />
<line x1="481.00" y1="319.30" x2="481.00" y2="323.10" stroke-width="1.3" />
<text x="408" y="339.6" font-size="14.2" text-anchor="middle" >PTEN</text>
<text x="483" y="339.6" font-size="14.2" text-anchor="middle" >no PTEN</text>
<polyline points="403.8,233.05 403.8,228.75 482.8,228.75 482.8,233.05" fill="none" stroke-width="1.45"/>
<text x="438.7" y="218.75" font-size="14.2" text-anchor="middle" >n.s.</text>
<line x1="380.00" y1="312.20" x2="430.00" y2="312.20" stroke-width="1.4" />
<line x1="392.30" y1="309.20" x2="417.70" y2="309.20" stroke-width="1.4" />
<line x1="392.30" y1="315.00" x2="417.70" y2="315.00" stroke-width="1.4" />
<line x1="405.00" y1="309.20" x2="405.00" y2="315.00" stroke-width="1.4" />
<line x1="456.00" y1="283.00" x2="506.00" y2="283.00" stroke-width="1.4" />
<line x1="468.30" y1="272.20" x2="493.70" y2="272.20" stroke-width="1.4" />
<line x1="468.30" y1="293.70" x2="493.70" y2="293.70" stroke-width="1.4" />
<line x1="481.00" y1="272.20" x2="481.00" y2="293.70" stroke-width="1.4" />
<circle cx="402" cy="304.2" r="2.1" stroke="none"/>
<circle cx="408" cy="310.5" r="2.1" stroke="none"/>
<circle cx="402" cy="317.2" r="2.1" stroke="none"/>
<circle cx="408" cy="317.2" r="2.1" stroke="none"/>
<rect x="476" y="250.2" width="4" height="4" stroke="none"/>
<rect x="482" y="254.2" width="4" height="4" stroke="none"/>
<rect x="479" y="271.7" width="4" height="4" stroke="none"/>
<rect x="479" y="293.5" width="4" height="4" stroke="none"/>
<rect x="482" y="306.7" width="4" height="4" stroke="none"/>
<rect x="476" y="310.5" width="4" height="4" stroke="none"/>
<line x1="367.60" y1="405.60" x2="367.60" y2="507.00" stroke-width="1.5" />
<line x1="366.85" y1="507.00" x2="518.50" y2="507.00" stroke-width="1.5" />
<line x1="363.40" y1="406.20" x2="367.60" y2="406.20" stroke-width="1.3" />
<text x="358.2" y="412.3" font-size="14.2" text-anchor="end" >5</text>
<line x1="363.40" y1="426.25" x2="367.60" y2="426.25" stroke-width="1.3" />
<text x="358.2" y="432.45" font-size="14.2" text-anchor="end" >4</text>
<line x1="363.40" y1="446.30" x2="367.60" y2="446.30" stroke-width="1.3" />
<text x="358.2" y="451.8" font-size="14.2" text-anchor="end" >3</text>
<line x1="363.40" y1="466.40" x2="367.60" y2="466.40" stroke-width="1.3" />
<text x="358.2" y="471.2" font-size="14.2" text-anchor="end" >2</text>
<line x1="363.40" y1="487.00" x2="367.60" y2="487.00" stroke-width="1.3" />
<text x="358.2" y="490.3" font-size="14.2" text-anchor="end" >1</text>
<line x1="363.40" y1="507.00" x2="367.60" y2="507.00" stroke-width="1.3" />
<text x="358.2" y="510.69999999999993" font-size="14.2" text-anchor="end" >0</text>
<text transform="translate(320,452) rotate(-90)" font-size="14.2" text-anchor="middle">PD0325901</text>
<text transform="translate(336.3,449.2) rotate(-90)" font-size="14.2" text-anchor="middle">IC50 (µM)</text>
<line x1="405.00" y1="507.00" x2="405.00" y2="510.80" stroke-width="1.3" />
<line x1="481.00" y1="507.00" x2="481.00" y2="510.80" stroke-width="1.3" />
<text x="408" y="530" font-size="14.2" text-anchor="middle" >PTEN</text>
<text x="483" y="530" font-size="14.2" text-anchor="middle" >no PTEN</text>
<polyline points="403.8,410.55 403.8,406.25 482.8,406.25 482.8,410.55" fill="none" stroke-width="1.45"/>
<text x="442.2" y="405.7" font-size="23" text-anchor="middle" letter-spacing="1.0" style="stroke-width:0">***</text>
<line x1="380.00" y1="507.00" x2="430.00" y2="507.00" stroke-width="1.4" />
<line x1="392.30" y1="507.00" x2="417.70" y2="507.00" stroke-width="1.4" />
<line x1="392.30" y1="507.00" x2="417.70" y2="507.00" stroke-width="1.4" />
<line x1="405.00" y1="507.00" x2="405.00" y2="507.00" stroke-width="1.4" />
<line x1="456.00" y1="438.00" x2="506.00" y2="438.00" stroke-width="1.4" />
<line x1="468.30" y1="430.00" x2="493.70" y2="430.00" stroke-width="1.4" />
<line x1="468.30" y1="445.75" x2="493.70" y2="445.75" stroke-width="1.4" />
<line x1="481.00" y1="430.00" x2="481.00" y2="445.75" stroke-width="1.4" />
<circle cx="396.25" cy="507" r="2.1" stroke="none"/>
<circle cx="402.5" cy="507" r="2.1" stroke="none"/>
<circle cx="408.25" cy="507" r="2.1" stroke="none"/>
<circle cx="414.25" cy="507" r="2.1" stroke="none"/>
<rect x="470.5" y="423.75" width="4" height="4" stroke="none"/>
<rect x="476.25" y="423.75" width="4" height="4" stroke="none"/>
<rect x="482.25" y="423.75" width="4" height="4" stroke="none"/>
<rect x="488" y="423.75" width="4" height="4" stroke="none"/>
<rect x="479" y="446.25" width="4" height="4" stroke="none"/>
<rect x="479" y="472.5" width="4" height="4" stroke="none"/>
<text x="0.1" y="582.3" font-size="16" text-anchor="start" >D</text>
<line x1="142.20" y1="635.20" x2="142.20" y2="749.10" stroke-width="2" />
<line x1="141.20" y1="749.10" x2="351.30" y2="749.10" stroke-width="2" />
<line x1="138.40" y1="749.10" x2="142.20" y2="749.10" stroke-width="2" />
<text x="129.2" y="757.8000000000001" font-size="14" text-anchor="end" >0</text>
<line x1="138.40" y1="726.60" x2="142.20" y2="726.60" stroke-width="2" />
<text x="129.2" y="733.7" font-size="14" text-anchor="end" >20</text>
<line x1="138.40" y1="704.10" x2="142.20" y2="704.10" stroke-width="2" />
<text x="129.2" y="713.5" font-size="14" text-anchor="end" >40</text>
<line x1="138.40" y1="681.60" x2="142.20" y2="681.60" stroke-width="2" />
<text x="129.2" y="688.4" font-size="14" text-anchor="end" >60</text>
<line x1="138.40" y1="659.10" x2="142.20" y2="659.10" stroke-width="2" />
<text x="129.2" y="664.9" font-size="14" text-anchor="end" >80</text>
<line x1="138.40" y1="636.60" x2="142.20" y2="636.60" stroke-width="2" />
<text x="129.2" y="644.2" font-size="14" text-anchor="end" >100</text>
<text transform="translate(68.0,697.75) rotate(-90)" font-size="14.2" text-anchor="middle">% Cleaved</text>
<text transform="translate(85.9,696.25) rotate(-90)" font-size="14.2" text-anchor="middle">Caspase 3</text>
<line x1="168.25" y1="749.10" x2="168.25" y2="753.10" stroke-width="2" />
<line x1="151.05" y1="715.75" x2="185.45" y2="715.75" stroke-width="1.8" />
<line x1="159.05" y1="709.70" x2="177.45" y2="709.70" stroke-width="1.8" />
<line x1="159.05" y1="722.00" x2="177.45" y2="722.00" stroke-width="1.8" />
<line x1="168.25" y1="709.70" x2="168.25" y2="722.00" stroke-width="1.8" />
<line x1="220.50" y1="749.10" x2="220.50" y2="753.10" stroke-width="2" />
<line x1="203.30" y1="645.75" x2="237.70" y2="645.75" stroke-width="1.8" />
<line x1="211.30" y1="641.50" x2="229.70" y2="641.50" stroke-width="1.8" />
<line x1="211.30" y1="650.50" x2="229.70" y2="650.50" stroke-width="1.8" />
<line x1="220.50" y1="641.50" x2="220.50" y2="650.50" stroke-width="1.8" />
<line x1="272.50" y1="749.10" x2="272.50" y2="753.10" stroke-width="2" />
<line x1="255.30" y1="721.75" x2="289.70" y2="721.75" stroke-width="1.8" />
<line x1="263.30" y1="717.50" x2="281.70" y2="717.50" stroke-width="1.8" />
<line x1="263.30" y1="726.25" x2="281.70" y2="726.25" stroke-width="1.8" />
<line x1="272.50" y1="717.50" x2="272.50" y2="726.25" stroke-width="1.8" />
<line x1="325.30" y1="749.10" x2="325.30" y2="753.10" stroke-width="2" />
<line x1="308.10" y1="705.00" x2="342.50" y2="705.00" stroke-width="1.8" />
<line x1="316.10" y1="699.25" x2="334.50" y2="699.25" stroke-width="1.8" />
<line x1="316.10" y1="710.50" x2="334.50" y2="710.50" stroke-width="1.8" />
<line x1="325.30" y1="699.25" x2="325.30" y2="710.50" stroke-width="1.8" />
<circle cx="168.25" cy="704" r="2.6" stroke="none"/>
<circle cx="163.75" cy="711.25" r="2.6" stroke="none"/>
<circle cx="172.5" cy="715.6" r="2.6" stroke="none"/>
<circle cx="168.25" cy="733" r="2.6" stroke="none"/>
<rect x="210.0" y="638.1" width="5" height="4.8" stroke="none"/>
<rect x="226.75" y="636.85" width="5" height="4.8" stroke="none"/>
<rect x="218.0" y="640.6" width="5" height="4.8" stroke="none"/>
<rect x="218.0" y="658.35" width="5" height="4.8" stroke="none"/>
<polygon points="269.9,708.45 275.1,708.45 272.5,703.85" stroke="none"/>
<polygon points="268.65,725.2 273.85,725.2 271.25,720.6" stroke="none"/>
<polygon points="274.9,727.2 280.1,727.2 277.5,722.6" stroke="none"/>
<polygon points="274.9,730.2 280.1,730.2 277.5,725.6" stroke="none"/>
<polygon points="265.65,732.95 270.85,732.95 268.25,728.35" stroke="none"/>
<polygon points="322.4,687.05 327.6,687.05 325,691.65" stroke="none"/>
<polygon points="317.4,702.8 322.6,702.8 320,707.4" stroke="none"/>
<polygon points="326.65,704.05 331.85,704.05 329.25,708.65" stroke="none"/>
<polygon points="322.4,720.3 327.6,720.3 325,724.9" stroke="none"/>
<polyline points="164.3,619.6999999999999 164.3,615.4 219.5,615.4 219.5,619.6999999999999" fill="none" stroke-width="2.1"/>
<polyline points="220.3,592.1999999999999 220.3,587.9 326.7,587.9 326.7,592.1999999999999" fill="none" stroke-width="2.1"/>
<polyline points="271.8,619.6999999999999 271.8,615.4 326.7,615.4 326.7,619.6999999999999" fill="none" stroke-width="2.1"/>
<text x="194.3" y="615.2" font-size="23" text-anchor="middle" letter-spacing="1.2" style="stroke-width:0">***</text>
<text x="276.7" y="587.1" font-size="23" text-anchor="middle" letter-spacing="1.2" style="stroke-width:0">***</text>
<text x="299.2" y="617.1" font-size="23" text-anchor="middle" style="stroke-width:0">*</text>
<text x="172.2" y="776.3" font-size="14.2" text-anchor="middle" >veh.</text>
<text x="220.6" y="776.3" font-size="14.2" text-anchor="middle" >PD</text>
<text x="275.6" y="776.3" font-size="14.2" text-anchor="middle" >veh.</text>
<text x="329.4" y="776.3" font-size="14.2" text-anchor="middle" >PD</text>
<line x1="158.30" y1="782.50" x2="229.30" y2="782.50" stroke-width="1.5" />
<line x1="263.80" y1="782.50" x2="335.00" y2="782.50" stroke-width="1.5" />
<text x="191.8" y="797.5" font-size="14.2" text-anchor="middle" >PTEN</text>
<text x="299.2" y="797.5" font-size="14.2" text-anchor="middle" >no PTEN</text>
</svg>
</body></html>
